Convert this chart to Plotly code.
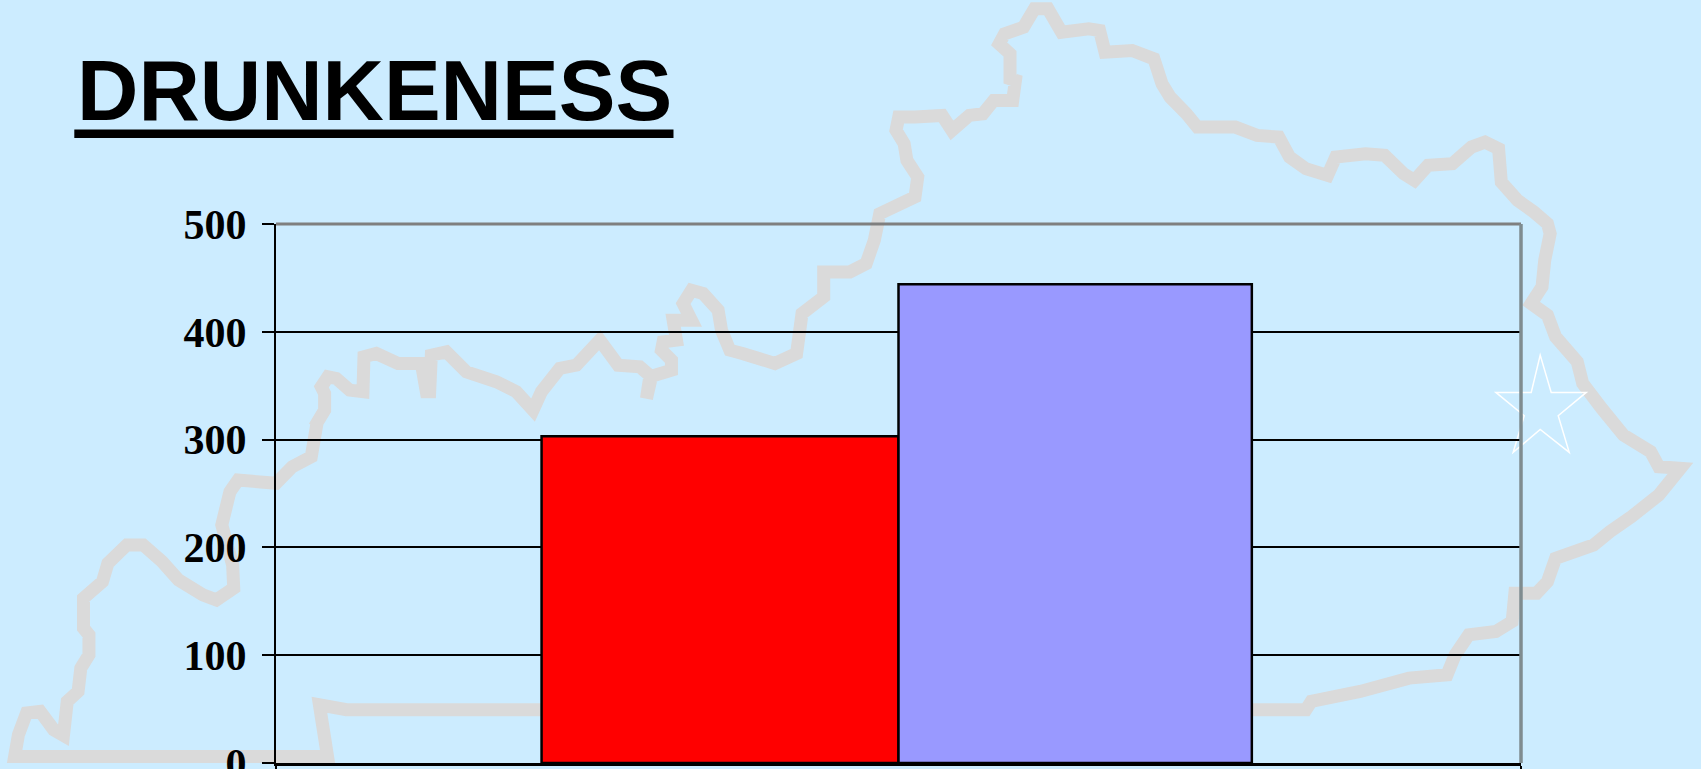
import plotly.graph_objects as go

TITLE = "DRUNKENESS"
SERIES_NAMES = ["Series 1", "Series 2"]
CATEGORY_X = [0]
SERIES_1 = [303]
SERIES_2 = [444]
Y_TICKS = [0, 100, 200, 300, 400, 500]
SERIES_COLORS = ["#FF0000", "#9999FF"]

W, H = 1701, 769
L, R, T, B = 276.4, 1520.8, 223.7, 763.3
PW, PH = R - L, B - T


def px(x, y):
    return (x - L) / PW, (B - y) / PH


# Decorative background state outline (crop origin, crop scale, points)
OUTLINE_SECTIONS = [
    (0, 385, 1.845, 3, [(605,1115),(28,1115),(35,1050),(50,985),(75,980),(100,1035),(118,1052),(125,950),(145,920),(150,850),(165,810),(165,750),(155,730),(155,640),(190,590),(200,535),(235,480),(265,480),(300,530),(330,585),(375,630),(400,645),(432,610),(430,540),(410,420),(425,320),(440,285),(510,295),(540,245),(575,215),(585,120)]),
    (270, 270, 3, 3, [(135,470),(165,420),(165,370),(155,350),(175,320),(200,325),(240,360),(280,365),(283,260),(320,250),(385,280),(455,280),(470,365),(480,365),(485,255),(530,245),(590,305),(680,335),(740,365),(790,420),(815,365),(870,295),(920,285),(990,210),(1045,285),(1110,290),(1145,320),(1130,385),(1140,320),(1205,300),(1205,270),(1175,240),(1180,215),(1220,210),(1210,150),(1265,150),(1240,100),(1265,60),(1300,70),(1345,120),(1355,180),(1380,240)]),
    (0, 0, 1.845, 3, [(1370,1060),(1430,1090),(1470,1060),(1480,940),(1520,890),(1520,815)]),
    (850, 0, 1.843, 3, [(0,815),(30,790),(45,720),(55,640),(120,590),(125,530),(105,480),(100,430),(85,390),(90,350),(120,350),(170,345),(188,390),(220,345),(245,340),(265,300),(300,300),(305,240),(295,235),(295,160),(275,130),(285,100),(320,80),(340,25),(365,25),(390,95),(440,85),(460,90),(470,155),(520,150),(560,175),(575,250),(590,290),(620,340),(640,380),(710,380),(750,405),(790,410),(810,470),(840,505),(880,525),(895,470),(950,460),(985,465),(1020,520),(1040,540),(1065,495),(1110,490),(1145,440),(1170,425),(1195,445),(1200,545),(1230,600),(1260,635),(1285,670),(1290,700),(1280,780),(1275,860),(1255,910),(1285,945),(1300,1010),(1340,1085),(1350,1150)]),
    (850, 385, 1.843, 3, [(1385,70),(1425,150),(1475,200),(1490,245),(1530,250),(1490,330),(1440,395),(1400,440),(1370,480),(1300,520),(1285,590),(1265,625),(1225,625),(1220,710),(1190,740),(1140,750),(1115,810),(1100,870),(1030,880),(940,920),(850,950),(840,975),(745,975)]),
    (0, 385, 1.845, 3, [(1000,975),(640,975),(590,960),(605,1115)]),
]
STAR_POINTS = [(1540,355),(1551,392.3),(1586,392.3),(1558,415.7),(1569,452.3),(1540,429.3),(1513,452.3),(1524,415.7),(1495.7,392.3),(1531,392.3)]


def path_from(points, close=False):
    coords = [px(x, y) for x, y in points]
    d = "M " + " L ".join(f"{a:.5f} {b:.5f}" for a, b in coords)
    return d + (" Z" if close else "")


outline_pts = []
for ox, oy, sx, sy, pts in OUTLINE_SECTIONS:
    outline_pts += [(ox + a / sx, oy + b / sy) for a, b in pts]

fig = go.Figure()
for name, vals, col, wid, off in zip(SERIES_NAMES, [SERIES_1, SERIES_2], SERIES_COLORS, [0.2867, 0.2838], [-0.2867, 0]):
    fig.add_bar(x=CATEGORY_X, y=vals, name=name, width=wid, offset=off,
                marker=dict(color=col, line=dict(color="black", width=2.5)))

x0, y0 = px(74.8, 137.7)
x1, y1 = px(673.7, 129)
tx, ty = px(76, 41)

fig.update_layout(
    width=W, height=H,
    margin=dict(l=L, r=W - R, t=T, b=H - B, pad=0, autoexpand=False),
    paper_bgcolor="#CCECFF", plot_bgcolor="rgba(0,0,0,0)",
    barmode="overlay",
    showlegend=False, hovermode=False,
    xaxis=dict(range=[-0.5, 0.5], tickmode="array", tickvals=[-0.5, 0.5], ticktext=["", ""],
               ticks="outside", ticklen=6, tickwidth=2, tickcolor="black",
               showgrid=False, zeroline=False, showline=True, linecolor="black", linewidth=3),
    yaxis=dict(range=[0, 500], tickmode="array", tickvals=Y_TICKS, ticks="outside", ticklen=12,
               tickwidth=2, tickcolor="black", ticklabelstandoff=7, ticklabeloverflow="allow",
               tickfont=dict(family="Liberation Serif", size=42, color="black", weight=700),
               showgrid=True, gridcolor="black", gridwidth=2, zeroline=False,
               showline=True, linecolor="black", linewidth=2),
    shapes=[
        dict(type="path", xref="paper", yref="paper", layer="below", path=path_from(outline_pts, True),
             line=dict(color="#DADADA", width=13)),
        dict(type="path", xref="paper", yref="paper", layer="below", path=path_from(STAR_POINTS, True),
             line=dict(color="white", width=1.5)),
        dict(type="line", xref="paper", yref="paper", x0=0, x1=1, y0=1, y1=1, layer="above",
             line=dict(color="#7F7F7F", width=3)),
        dict(type="line", xref="paper", yref="paper", x0=1, x1=1, y0=0, y1=1, layer="above",
             line=dict(color="#7F8C90", width=3.5)),
        dict(type="rect", xref="paper", yref="paper", x0=x0, x1=x1, y0=y0, y1=y1, layer="above",
             fillcolor="black", line=dict(width=0)),
    ],
    annotations=[
        dict(text=TITLE, xref="paper", yref="paper", x=tx, y=ty, xanchor="left", yanchor="top",
             showarrow=False, font=dict(family="Liberation Sans", size=85, color="black", weight=700),
             borderpad=0),
    ],
)

fig.write_html("out.html", config={"displayModeBar": False},
               post_script="document.body.style.margin='0';document.body.style.overflow='hidden';")
